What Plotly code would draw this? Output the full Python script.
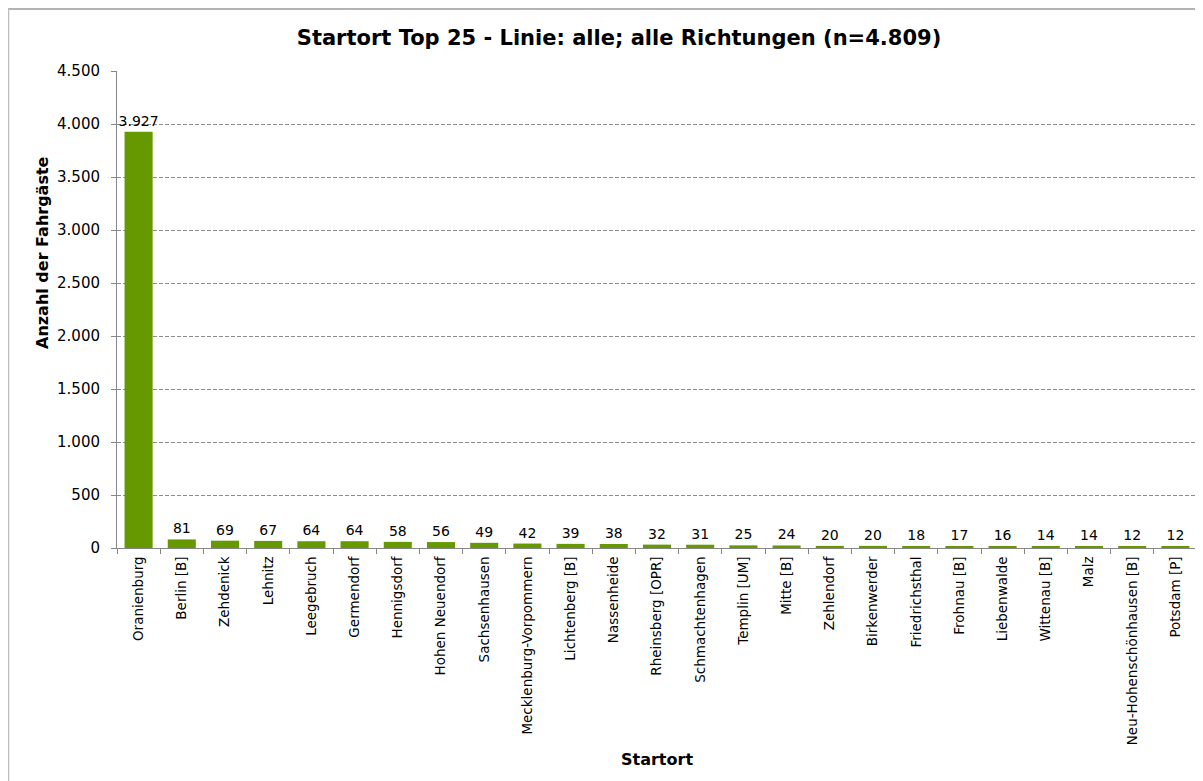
import plotly.graph_objects as go

orte = ["Oranienburg", "Berlin [B]", "Zehdenick", "Lehnitz", "Leegebruch", "Germendorf",
        "Hennigsdorf", "Hohen Neuendorf", "Sachsenhausen", "Mecklenburg-Vorpommern",
        "Lichtenberg [B]", "Nassenheide", "Rheinsberg [OPR]", "Schmachtenhagen",
        "Templin [UM]", "Mitte [B]", "Zehlendorf", "Birkenwerder", "Friedrichsthal",
        "Frohnau [B]", "Liebenwalde", "Wittenau [B]", "Malz", "Neu-Hohenschönhausen [B]",
        "Potsdam [P]"]
fahrgaeste = [3927, 81, 69, 67, 64, 64, 58, 56, 49, 42, 39, 38, 32, 31, 25, 24, 20, 20,
              18, 17, 16, 14, 14, 12, 12]
y_ticks = [0, 500, 1000, 1500, 2000, 2500, 3000, 3500, 4000, 4500]

W, H = 1203, 781
OFF = 8  # page offset of the figure inside the browser
ml, mr, mt, mb = 117 - OFF, W - (1197 - OFF), 71 - OFF, H - (548 - OFF)
FONT = "DejaVu Sans"

fig = go.Figure(go.Bar(
    x=orte, y=fahrgaeste,
    marker=dict(color="#669900", line=dict(width=0)),
    texttemplate="%{y:,d}", textposition="outside", constraintext="none",
    textfont=dict(family=FONT, size=14, color="#000000"),
    cliponaxis=False,
))

pw = W - ml - mr
ph = H - mt - mb
def px_to_paper_x(px):
    return (px - OFF - ml) / pw
def px_to_paper_y(py):
    return (H - mb - (py - OFF)) / ph

fig.update_layout(
    width=W, height=H,
    margin=dict(l=ml, r=mr, t=mt, b=mb, autoexpand=False),
    paper_bgcolor="white", plot_bgcolor="white",
    separators=",.",
    showlegend=False,
    bargap=0.35,
    font=dict(family=FONT, size=13.5, color="#000000"),
    title=dict(text="<b>Startort Top 25 - Linie: alle; alle Richtungen (n=4.809)</b>",
               x=px_to_paper_x(619), xref="paper", xanchor="center",
               y=1 - (38 - OFF) / H, yanchor="middle",
               font=dict(family=FONT, size=21, color="#000000")),
    xaxis=dict(
        type="category", tickangle=-90, tickfont=dict(family=FONT, size=13.5),
        showline=True, linecolor="#868686", linewidth=1,
        ticks="outside", ticklen=5, tickcolor="#868686", tickson="boundaries",
        ticklabelstandoff=2,
        showgrid=False, automargin=False,
    ),
    yaxis=dict(
        range=[0, 4500], tickvals=y_ticks, tickformat=",d",
        tickfont=dict(family=FONT, size=15),
        showline=True, linecolor="#868686", linewidth=1,
        ticks="outside", ticklen=5, tickcolor="#868686",
        ticklabelstandoff=8,
        showgrid=True, gridcolor="#8c8c8c", gridwidth=1, griddash="4px,2px",
        zeroline=False, automargin=False,
    ),
    shapes=[
        dict(type="line", xref="paper", yref="paper",
             x0=px_to_paper_x(8), x1=px_to_paper_x(1215), y0=px_to_paper_y(9), y1=px_to_paper_y(9),
             line=dict(color="#9a9a9a", width=1.5)),
        dict(type="line", xref="paper", yref="paper",
             x0=px_to_paper_x(8.5), x1=px_to_paper_x(8.5), y0=px_to_paper_y(9), y1=px_to_paper_y(800),
             line=dict(color="#bdbdbd", width=1.5)),
    ],
)

fig.add_annotation(text="<b>Startort</b>", xref="paper", yref="paper",
                   x=px_to_paper_x(657), y=px_to_paper_y(759), xanchor="center", yanchor="middle",
                   showarrow=False, font=dict(family=FONT, size=16, color="#000000"))
fig.add_annotation(text="<b>Anzahl der Fahrgäste</b>", xref="paper", yref="paper",
                   x=px_to_paper_x(42), y=px_to_paper_y(253), xanchor="center", yanchor="middle",
                   textangle=-90,
                   showarrow=False, font=dict(family=FONT, size=16, color="#000000"))

fig.write_html("out.html")
